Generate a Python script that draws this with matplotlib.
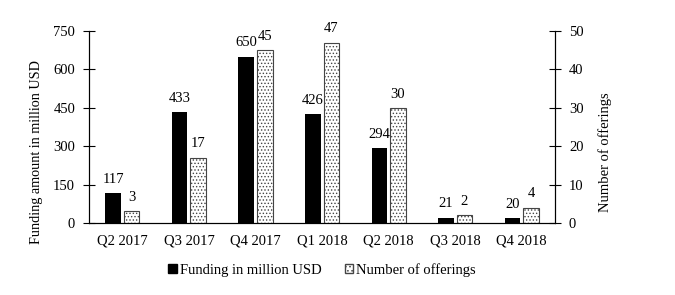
import numpy as np
import matplotlib.pyplot as plt
from matplotlib.patches import Patch

plt.rcParams['font.family'] = ['Liberation Serif', 'DejaVu Serif']
plt.rcParams['hatch.color'] = '#555555'
plt.rcParams['hatch.linewidth'] = 0.6

quarters = ['Q2 2017', 'Q3 2017', 'Q4 2017', 'Q1 2018', 'Q2 2018', 'Q3 2018', 'Q4 2018']
funding = [117, 433, 650, 426, 294, 21, 20]
offerings = [3, 17, 45, 47, 30, 2, 4]

fig = plt.figure(figsize=(6.75, 2.95), dpi=100)
ax = fig.add_axes([0.1319, 0.2441, 0.6904, 0.6508])
ax2 = ax.twinx()

x = np.arange(len(quarters))
w = 0.235
gap = 0.022

ax.bar(x - w / 2 - gap, funding, w, color='black', zorder=2)
ax2.bar(x + w / 2 + gap, offerings, w, facecolor='white', edgecolor='#444444',
        hatch='.....', linewidth=0.8, zorder=2)

for xi, v in zip(x, funding):
    ax.text(xi - w / 2 - gap, v + 28, str(v), ha='center', va='bottom', fontsize=10.5)
for xi, v in zip(x, offerings):
    ax2.text(xi + w / 2 + gap, v + 1.9, str(v), ha='center', va='bottom', fontsize=10.5)

ax.set_xlim(-0.5, len(quarters) - 0.5)
ax.set_ylim(0, 750)
ax2.set_ylim(0, 50)
ax.set_yticks([0, 150, 300, 450, 600, 750])
ax2.set_yticks([0, 10, 20, 30, 40, 50])
ax.set_xticks(x)
ax.set_xticklabels(quarters, fontsize=10.5)
ax.tick_params(axis='x', length=0, pad=8)
ax.tick_params(axis='y', labelsize=10.5, length=8, direction='inout', pad=6)
ax2.tick_params(axis='y', labelsize=10.5, length=8, direction='inout', pad=6)

ax.set_ylabel('Funding amount in million USD', fontsize=10.2)
ax.yaxis.set_label_coords(-0.098, 0.37)
ax2.set_ylabel('Number of offerings', fontsize=10.5)
ax2.yaxis.set_label_coords(1.092, 0.37)

for a in (ax, ax2):
    a.spines['top'].set_visible(False)
    for s in ('left', 'right', 'bottom'):
        a.spines[s].set_linewidth(0.8)

handles = [Patch(facecolor='black', edgecolor='black', label='Funding in million USD'),
           Patch(facecolor='white', edgecolor='#444444', hatch='....', label='Number of offerings')]
fig.legend(handles=handles, loc='center', bbox_to_anchor=(0.477, 0.085), ncol=2,
           frameon=False, fontsize=10.5, handlelength=0.6, handleheight=0.6,
           handletextpad=0.2, columnspacing=1.6)

fig.savefig('out.png', dpi=100)
